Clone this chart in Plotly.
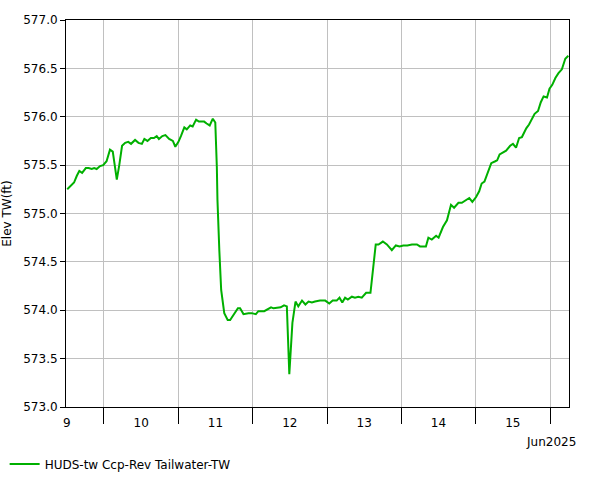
import plotly.graph_objects as go
import pandas as pd

start = pd.Timestamp("2025-06-09 11:44")
hours_from_start = [
    0.4, 1.8, 2.6, 3.5, 4.3, 5.2, 6.4, 7.3, 8.3, 9.1, 9.9, 11.0, 12.0, 13.1, 14.2, 15.1,
    16.4, 17.2, 18.1, 19.1, 20.1, 21.0, 22.3, 23.4, 24.5, 25.3, 26.3, 27.4, 28.4, 29.3,
    30.0, 31.1, 32.1, 33.3, 34.5, 35.3, 36.3, 37.1, 38.2, 39.0, 40.1, 40.9, 42.0, 42.9,
    43.8, 44.6, 45.4, 46.4, 47.4, 48.2, 48.7, 48.9, 49.5, 50.1, 51.1, 52.2, 53.0, 54.4,
    55.5, 56.2, 57.3, 58.9, 60.0, 61.3, 62.1, 64.0, 66.2, 67.0, 68.3, 69.3, 70.4, 71.3,
    72.1, 73.1, 74.1, 75.0, 76.2, 77.3, 78.3, 79.4, 80.4, 82.0, 83.7, 85.0, 86.1, 87.4,
    88.3, 89.2, 90.1, 91.0, 92.3, 93.3, 94.4, 95.5, 96.9, 98.3, 100.0, 100.9, 102.3,
    103.6, 105.2, 106.5, 107.7, 108.9, 110.2, 111.7, 113.3, 114.3, 116.2, 117.0, 118.1,
    119.5, 120.3, 121.7, 123.0, 124.3, 125.3, 126.7, 127.8, 129.1, 130.2, 131.2, 132.4,
    133.4, 134.2, 135.1, 136.2, 137.3, 138.6, 139.2, 140.0, 141.3, 142.1, 143.4, 144.3,
    145.3, 146.3, 147.2, 148.6, 149.5, 150.4, 151.3, 152.4, 153.3, 154.2, 155.3, 156.1,
    157.0, 158.0, 159.0, 160.1, 161.2, 162.2,
]
elev_tw = [
    575.25, 575.29, 575.32, 575.39, 575.44, 575.42, 575.47, 575.47, 575.46, 575.47, 575.46,
    575.49, 575.50, 575.54, 575.66, 575.64, 575.35, 575.50, 575.70, 575.73, 575.74, 575.72,
    575.76, 575.73, 575.72, 575.77, 575.75, 575.78, 575.78, 575.80, 575.77, 575.80, 575.81,
    575.77, 575.75, 575.69, 575.74, 575.80, 575.89, 575.87, 575.91, 575.90, 575.97, 575.95,
    575.95, 575.95, 575.93, 575.91, 575.98, 575.94, 575.48, 575.14, 574.62, 574.21, 573.97,
    573.90, 573.90, 573.97, 574.02, 574.02, 573.96, 573.97, 573.97, 573.96, 573.99, 573.99,
    574.03, 574.02, 574.03, 574.03, 574.05, 574.04, 573.34, 573.87, 574.09, 574.04, 574.10,
    574.06, 574.09, 574.08, 574.09, 574.10, 574.10, 574.07, 574.10, 574.10, 574.13, 574.08,
    574.13, 574.11, 574.14, 574.13, 574.14, 574.13, 574.18, 574.18, 574.68, 574.68, 574.71,
    574.68, 574.62, 574.67, 574.66, 574.67, 574.67, 574.68, 574.68, 574.66, 574.66, 574.75,
    574.73, 574.77, 574.75, 574.86, 574.93, 575.09, 575.06, 575.11, 575.11, 575.14, 575.16,
    575.12, 575.17, 575.23, 575.31, 575.33, 575.43, 575.52, 575.54, 575.55, 575.61, 575.63,
    575.65, 575.70, 575.72, 575.68, 575.78, 575.79, 575.88, 575.92, 575.98, 576.03, 576.06,
    576.15, 576.21, 576.20, 576.29, 576.33, 576.40, 576.45, 576.49, 576.60, 576.63,
]
series_name = "HUDS-tw Ccp-Rev Tailwater-TW"
day_ticks = ["2025-06-10", "2025-06-11", "2025-06-12", "2025-06-13",
             "2025-06-14", "2025-06-15", "2025-06-16"]
day_label_pos = ["2025-06-09 12:00", "2025-06-10 12:00", "2025-06-11 12:00",
                 "2025-06-12 12:00", "2025-06-13 12:00", "2025-06-14 12:00",
                 "2025-06-15 12:00"]
day_labels = ["9", "10", "11", "12", "13", "14", "15"]
x_range = ["2025-06-09 11:44", "2025-06-16 06:08"]
y_range = [573.0, 577.0]

times = start + pd.to_timedelta(hours_from_start, unit="h")

FONT = "DejaVu Sans"
fig = go.Figure()
fig.add_trace(go.Scatter(x=times, y=elev_tw, mode="lines", name=series_name,
                         line=dict(color="rgb(0,176,0)", width=2)))
fig.add_trace(go.Scatter(x=[times[0]], y=[elev_tw[0]], xaxis="x2", mode="none",
                         showlegend=False, hoverinfo="skip"))

fig.update_layout(
    width=601, height=480,
    margin=dict(l=66, r=32, t=20, b=73, autoexpand=False),
    paper_bgcolor="white", plot_bgcolor="white",
    font=dict(family=FONT, size=12, color="black"),
    showlegend=True,
    legend=dict(orientation="h", x=-0.122, y=-0.147, xanchor="left", yanchor="middle",
                font=dict(family=FONT, size=12, color="black"), bgcolor="rgba(0,0,0,0)"),
    xaxis=dict(range=x_range, type="date", tickvals=day_ticks, showticklabels=False,
               ticks="outside", ticklen=16, tickcolor="black", tickwidth=1,
               showgrid=True, gridcolor="#c0c0c0", gridwidth=1, automargin=False,
               showline=True, linecolor="black", linewidth=1, mirror=True, zeroline=False),
    xaxis2=dict(range=x_range, type="date", overlaying="x", side="bottom",
                tickvals=day_label_pos, ticktext=day_labels, ticks="outside", ticklen=5,
                tickcolor="rgba(0,0,0,0)", showgrid=False, showline=False, zeroline=False,
                automargin=False, tickfont=dict(family=FONT, size=12, color="black")),
    yaxis=dict(range=y_range, dtick=0.5, tick0=573, tickformat=".1f",
               ticks="outside", ticklen=5, tickcolor="black", automargin=False,
               showgrid=True, gridcolor="#c0c0c0", gridwidth=1,
               showline=True, linecolor="black", linewidth=1, mirror=True, zeroline=False,
               title=dict(text="Elev TW(ft)", font=dict(family=FONT, size=12))),
    annotations=[dict(text="Jun2025", xref="paper", yref="paper", x=1.018, y=-0.09,
                      xanchor="right", yanchor="middle", showarrow=False,
                      font=dict(family=FONT, size=12, color="black"))],
)
fig.write_html("out.html", config={"displayModeBar": False},
               post_script="document.body.style.margin='0';")
